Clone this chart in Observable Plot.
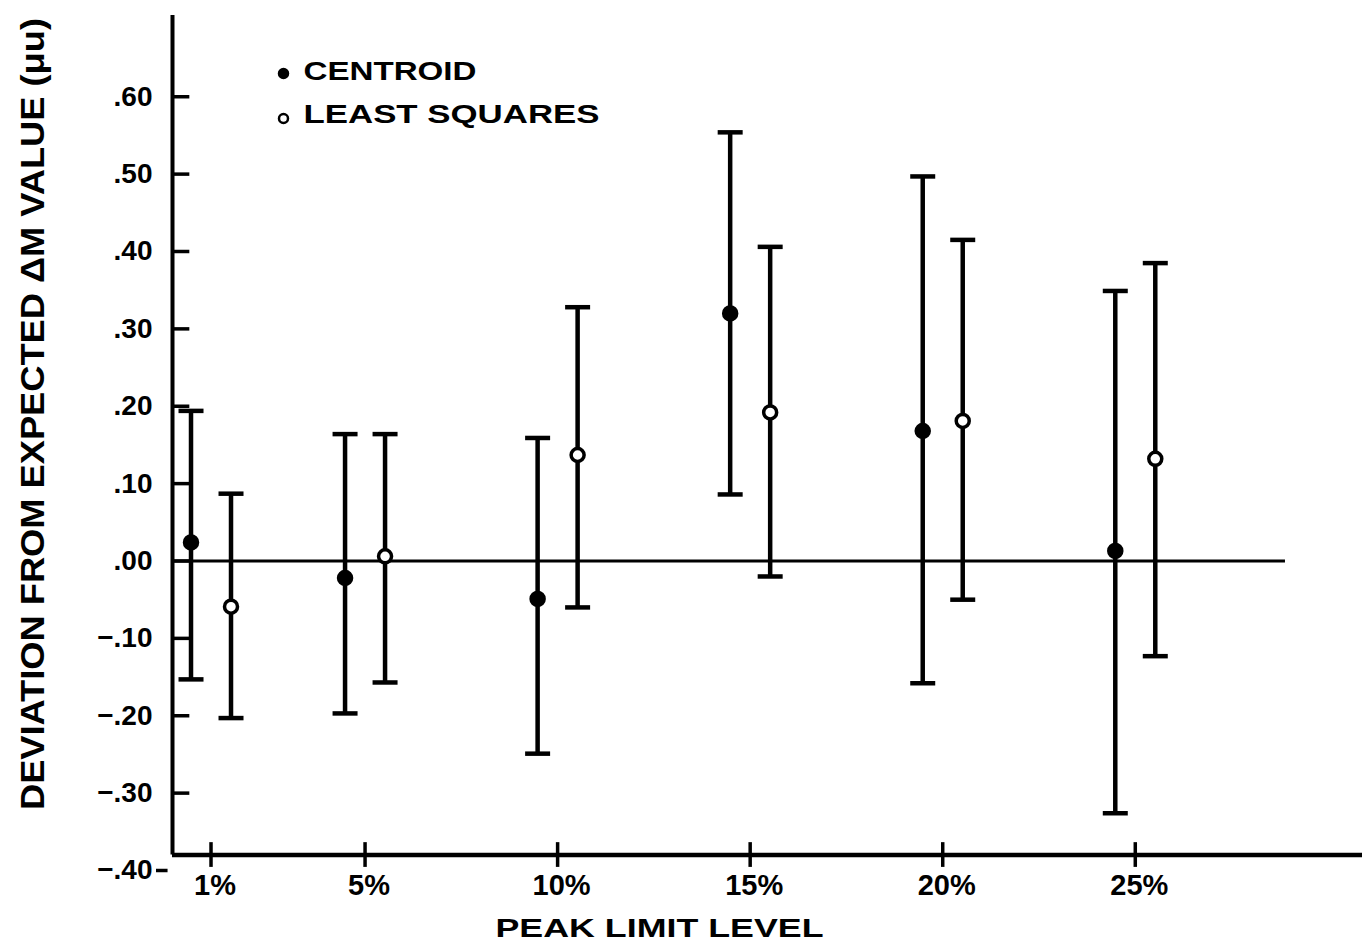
<!DOCTYPE html>
<html><head><meta charset="utf-8">
<script src="https://cdn.jsdelivr.net/npm/d3@7"></script>
<script src="https://cdn.jsdelivr.net/npm/@observablehq/plot@0.6"></script>
<style>
html,body{margin:0;padding:0;background:#fff;}
#chart svg{display:block;}
</style>
</head><body><div id="chart"></div>
<script>
// ---- data ----
const levels = [1, 5, 10, 15, 20, 25];
const levelLabels = ["1%", "5%", "10%", "15%", "20%", "25%"];
const centroid     = [0.024, -0.022, -0.049, 0.320, 0.168, 0.013];
const centroidLow  = [-0.153, -0.197, -0.249, 0.086, -0.158, -0.326];
const centroidHigh = [0.194, 0.164, 0.159, 0.554, 0.497, 0.349];
const leastSq      = [-0.059, 0.006, 0.137, 0.192, 0.181, 0.132];
const leastSqLow   = [-0.203, -0.157, -0.060, -0.020, -0.050, -0.123];
const leastSqHigh  = [0.087, 0.164, 0.328, 0.406, 0.415, 0.385];
const yTicks = [-0.4, -0.3, -0.2, -0.1, 0, 0.1, 0.2, 0.3, 0.4, 0.5, 0.6];
const yTickLabels = ["\u2212.40", "\u2212.30", "\u2212.20", "\u2212.10", ".00", ".10", ".20", ".30", ".40", ".50", ".60"];
const legendNames = ["CENTROID", "LEAST SQUARES"];
const xTitle = "PEAK LIMIT LEVEL";
const yTitle = "DEVIATION FROM EXPECTED \u0394M VALUE (\u03BCu)";
const referenceValue = 0;
const referenceEnd = 28.9;
const xDomain = [0, 30.9];
const yDomain = [-0.40, 0.705];
const axisLevel = -0.38;

// ---- build tables ----
const rows = (v, lo, hi) => levels.map((l, i) => ({level: l, value: v[i], low: lo[i], high: hi[i]}));
const series = [
  {name: legendNames[0], data: rows(centroid, centroidLow, centroidHigh), fill: "black", dx: -20},
  {name: legendNames[1], data: rows(leastSq, leastSqLow, leastSqHigh), fill: "white", dx: 20}
];
const ticksAbove = yTicks.filter(d => d > axisLevel);
const ticksBelow = yTicks.filter(d => d <= axisLevel);

const capSymbol = {draw(ctx) { ctx.moveTo(-12.5, 0); ctx.lineTo(12.5, 0); }};
const SW = 4.5;

const marks = [
  // axes lines
  Plot.ruleY([axisLevel], {stroke: "black", strokeWidth: 4.5}),
  Plot.ruleX([0], {y1: axisLevel, y2: yDomain[1], stroke: "black", strokeWidth: 4}),
  // zero reference line
  Plot.ruleY([referenceValue], {x1: 0, x2: referenceEnd, stroke: "black", strokeWidth: 3}),
  // y ticks
  Plot.ruleY(ticksAbove, {y: d => d, x1: 0, x2: 0.45, stroke: "black", strokeWidth: 3.5}),
  Plot.ruleY(ticksBelow, {y: d => d, x1: 0, x2: 0.3, dx: -16, stroke: "black", strokeWidth: 3.5}),
  Plot.text(yTicks, {x: 0, y: d => d, text: (d, i) => yTickLabels[i], textAnchor: "end", dx: -20,
    fontSize: 28, fontWeight: "bold", fill: "black"}),
  // x ticks
  Plot.ruleX(levels, {x: d => d, y1: axisLevel - 0.016, y2: axisLevel + 0.016, stroke: "black", strokeWidth: 3.5}),
  Plot.text(levels, {x: d => d, y: axisLevel, text: (d, i) => levelLabels[i], dy: 31, dx: 4,
    fontSize: 29, fontWeight: "bold", fill: "black"}),
  // titles
  Plot.text([xTitle], {frameAnchor: "bottom", textAnchor: "middle", lineAnchor: "middle", dx: -108, dy: 58,
    fontSize: 26, fontWeight: "bold", fill: "black"}),
  Plot.text([yTitle], {frameAnchor: "left", textAnchor: "middle", lineAnchor: "middle", dx: -139, dy: -29, rotate: -90,
    fontSize: 34, fontWeight: "bold", fill: "black"})
];

for (const s of series) {
  marks.push(
    Plot.ruleX(s.data, {x: "level", y1: "low", y2: "high", dx: s.dx, stroke: "black", strokeWidth: SW}),
    Plot.dot(s.data, {x: "level", y: "low", dx: s.dx, symbol: capSymbol, r: 5, fill: "none", stroke: "black", strokeWidth: SW}),
    Plot.dot(s.data, {x: "level", y: "high", dx: s.dx, symbol: capSymbol, r: 5, fill: "none", stroke: "black", strokeWidth: SW}),
    Plot.dot(s.data, {x: "level", y: "value", dx: s.dx, r: 6.5, fill: s.fill, stroke: "black", strokeWidth: 3.5})
  );
}

// legend
series.forEach((s, i) => {
  marks.push(
    Plot.dot([s.name], {frameAnchor: "top-left", dx: 111, dy: 58 + i * 45, r: 4.5, fill: s.fill, stroke: "black", strokeWidth: 2.5}),
    Plot.text([s.name], {frameAnchor: "top-left", textAnchor: "start", lineAnchor: "middle", dx: 131, dy: 56 + i * 43,
      fontSize: 25, fontWeight: "bold", fill: "black"})
  );
});

const chart = Plot.plot({
  width: 1362, height: 950,
  marginLeft: 172, marginRight: 0, marginTop: 15, marginBottom: 80,
  x: {type: "linear", domain: xDomain, axis: null},
  y: {type: "linear", domain: yDomain, axis: null},
  style: {fontFamily: "'Liberation Sans', Arial, sans-serif", background: "white", color: "black", overflow: "visible"},
  marks
});
document.getElementById("chart").appendChild(chart);

// fit lettering widths to the reference
const fitLengths = {"PEAK LIMIT LEVEL": 328, "CENTROID": 173, "LEAST SQUARES": 296};
fitLengths[yTitle] = 792;
chart.querySelectorAll("text").forEach(t => {
  const L = fitLengths[t.textContent];
  if (L) { t.setAttribute("textLength", L); t.setAttribute("lengthAdjust", "spacingAndGlyphs"); }
});
</script>
</body></html>
